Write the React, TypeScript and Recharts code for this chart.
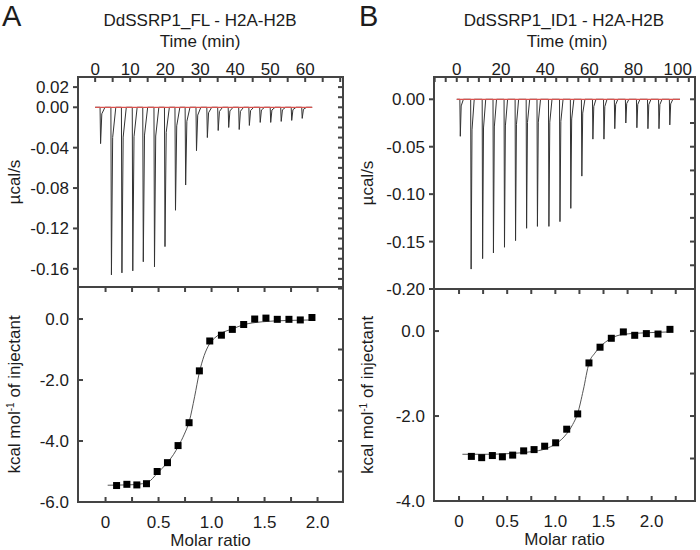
import React from "react";
import { ComposedChart, Line, Scatter, XAxis, YAxis, Label } from "recharts";

const FONT = "'Liberation Sans', Arial, Helvetica, sans-serif";
const INK = "#1c1c1c";
const FRAME = "#444444";
const TRACE = "#333333";
const BASELINE = "#d9534f";

// DdSSRP1_FL - H2A-H2B : raw injections (min, ucal/s)
const FL_INJ_TIME = [1.4, 4.5, 7.5, 10.6, 13.6, 16.8, 19.8, 22.8, 25.7, 28.8, 31.9, 35.0, 38.0, 41.0, 43.9, 47.0, 50.0, 53.0, 56.0, 59.0];
const FL_INJ_PEAK = [-0.036, -0.166, -0.164, -0.162, -0.153, -0.158, -0.138, -0.102, -0.077, -0.043, -0.03, -0.023, -0.02, -0.022, -0.018, -0.015, -0.015, -0.014, -0.013, -0.011];
const FL_RUN_END = 62;
// integrated heats
const FL_RATIO = [0.104, 0.201, 0.295, 0.386, 0.487, 0.584, 0.684, 0.788, 0.885, 0.983, 1.093, 1.196, 1.303, 1.407, 1.513, 1.62, 1.73, 1.837, 1.947];
const FL_HEAT = [-5.46, -5.42, -5.44, -5.4, -5.0, -4.71, -4.15, -3.4, -1.7, -0.72, -0.53, -0.34, -0.18, 0.0, 0.03, -0.01, -0.01, -0.03, 0.05];
const FL_FIT_RATIO = [0.02, 0.2, 0.3, 0.4, 0.49, 0.58, 0.64, 0.69, 0.74, 0.79, 0.84, 0.885, 0.93, 0.98, 1.03, 1.09, 1.2, 1.3, 1.48, 1.7, 1.97];
const FL_FIT_HEAT = [-5.45, -5.44, -5.42, -5.35, -5.05, -4.72, -4.45, -4.15, -3.8, -3.35, -2.55, -1.75, -1.2, -0.82, -0.62, -0.47, -0.32, -0.19, -0.09, -0.05, -0.03];

// DdSSRP1_ID1 - H2A-H2B
const ID1_INJ_TIME = [1.4, 6.3, 11.5, 16.4, 21.4, 26.4, 31.4, 36.3, 41.5, 46.5, 51.4, 56.4, 61.4, 66.4, 71.3, 76.3, 81.3, 86.3, 91.3, 96.2];
const ID1_INJ_PEAK = [-0.039, -0.179, -0.168, -0.162, -0.156, -0.149, -0.136, -0.134, -0.134, -0.129, -0.115, -0.081, -0.042, -0.042, -0.031, -0.025, -0.03, -0.031, -0.031, -0.027];
const ID1_RUN_END = 101;
const ID1_RATIO = [0.128, 0.235, 0.346, 0.45, 0.557, 0.671, 0.779, 0.889, 1.003, 1.118, 1.232, 1.349, 1.464, 1.581, 1.706, 1.824, 1.945, 2.066, 2.19];
const ID1_HEAT = [-2.95, -2.98, -2.93, -2.96, -2.92, -2.82, -2.79, -2.71, -2.63, -2.31, -1.95, -0.75, -0.38, -0.17, -0.02, -0.1, -0.06, -0.07, 0.04];
const ID1_FIT_RATIO = [0.035, 0.3, 0.55, 0.75, 0.9, 1.0, 1.06, 1.12, 1.18, 1.23, 1.29, 1.35, 1.41, 1.46, 1.52, 1.58, 1.7, 1.95, 2.19];
const ID1_FIT_HEAT = [-2.9, -2.9, -2.88, -2.84, -2.77, -2.66, -2.56, -2.41, -2.2, -1.95, -1.39, -0.75, -0.52, -0.38, -0.26, -0.17, -0.08, -0.04, -0.02];

const steps = (from: number, to: number, step: number) => {
  const out: number[] = [];
  for (let v = from; v <= to + 1e-9; v += step) out.push(+v.toFixed(4));
  return out;
};

const zip = (xs: number[], ys: number[]) => xs.map((x, i) => ({ x, y: ys[i] }));

// each injection drawn as a sharp dip that relaxes back to baseline
function trace(times: number[], peaks: number[], w: number[], end: number) {
  const pts = [{ x: 0, y: 0 }];
  times.forEach((t, i) => {
    const p = peaks[i];
    pts.push({ x: t, y: 0 }, { x: t + w[0], y: p }, { x: t + w[1], y: p * 0.18 }, { x: t + w[2], y: 0 });
  });
  pts.push({ x: end, y: 0 });
  return pts;
}

// tick marks as tiny rects placed by the scales; dx/dy/w/h relative to the tick point
const mark = (dx: number, dy: number, w: number, h: number) => (p: any) => (
  <rect x={p.cx + dx} y={p.cy + dy} width={w} height={h} fill={FRAME} />
);
const onLeft = (xd: number[], vals: number[]) => vals.map((v) => ({ x: xd[0], y: v }));
const onRight = (xd: number[], vals: number[]) => vals.map((v) => ({ x: xd[1], y: v }));
const onTop = (yd: number[], vals: number[]) => vals.map((v) => ({ x: v, y: yd[1] }));
const onBottom = (yd: number[], vals: number[]) => vals.map((v) => ({ x: v, y: yd[0] }));

function TickText(p: any) {
  const { x, y, payload, side, gap, fmt } = p;
  const label = fmt ? fmt(payload.value) : "";
  if (!label) return <g />;
  const common = { fontSize: 17, fill: INK, fontFamily: FONT };
  if (side === "left") return <text x={x - gap} y={y} dy="0.355em" textAnchor="end" {...common}>{label}</text>;
  if (side === "top") return <text x={x} y={y - gap} textAnchor="middle" {...common}>{label}</text>;
  return <text x={x} y={y + gap} dy="0.71em" textAnchor="middle" {...common}>{label}</text>;
}

const textOf = (side: string, gap: number, fmt: (v: number) => string) => (p: any) => <TickText {...p} side={side} gap={gap} fmt={fmt} />;

const Square = (p: any) => <rect x={p.cx - 3.5} y={p.cy - 3.5} width={7} height={7} fill="#000" />;

function VLabel({ viewBox, labelX, children }: any) {
  const cy = viewBox.y + viewBox.height / 2;
  return (
    <text x={labelX} y={cy} transform={`rotate(-90 ${labelX} ${cy})`} textAnchor="middle" fontSize={17} fill={INK} fontFamily={FONT}>
      {children}
    </text>
  );
}

// plot border laid over the chart's plot area (same layout numbers as the chart margins)
function Border({ x, y, w, h }: any) {
  return (
    <div
      style={{ position: "absolute", left: x - 1, top: y - 1, width: w + 2, height: h + 2, boxSizing: "border-box", border: `2px solid ${FRAME}`, pointerEvents: "none" }}
    />
  );
}

const plain = { tickSize: 0, tickMargin: 0, tickLine: false, axisLine: false, interval: 0 as const, type: "number" as const };
const noAnim = { isAnimationActive: false };

function Thermogram(props: any) {
  const { left, top, width, height, yw, mr, mb, xDomain, xTicks, xLabelStep, xMaxLabel, yDomain, yMajor, yMinor, data, end, title, letter, letterX, titleX, timeX, labelX } = props;
  return (
    <div style={{ position: "absolute", left, top, width, height }}>
      <ComposedChart width={width} height={height} margin={{ top: 0, right: mr, bottom: mb, left: 0 }}>
        <XAxis
          {...plain}
          xAxisId="t"
          orientation="top"
          dataKey="x"
          height={77}
          domain={xDomain}
          ticks={xTicks}
          tick={textOf("top", 2, (v) => (v % xLabelStep === 0 && v >= 0 && v <= xMaxLabel ? String(v) : ""))}
        >
          <Label
            content={() => (
              <g fontFamily={FONT} fill={INK}>
                <text x={letterX} y={26} fontSize={29}>{letter}</text>
                <text x={titleX} y={26} fontSize={17} textAnchor="middle">{title}</text>
                <text x={timeX} y={47} fontSize={17} textAnchor="middle">Time (min)</text>
              </g>
            )}
          />
        </XAxis>
        <YAxis {...plain} yAxisId="l" dataKey="y" width={yw} domain={yDomain} ticks={yMajor} tick={textOf("left", 9, (v) => v.toFixed(2))}>
          <Label content={(p: any) => <VLabel viewBox={p.viewBox} labelX={labelX}>µcal/s</VLabel>} />
        </YAxis>
        <Scatter xAxisId="t" yAxisId="l" data={onTop(yDomain, xTicks)} shape={mark(-1, 0, 2, 5)} {...noAnim} />
        <Scatter xAxisId="t" yAxisId="l" data={onLeft(xDomain, yMajor)} shape={mark(-5, -1, 5, 2)} {...noAnim} />
        <Scatter xAxisId="t" yAxisId="l" data={onRight(xDomain, yMinor)} shape={mark(-5, -1, 5, 2)} {...noAnim} />
        <Line xAxisId="t" yAxisId="l" data={data} dataKey="y" type="linear" stroke={TRACE} strokeWidth={1} dot={false} {...noAnim} />
        <Line xAxisId="t" yAxisId="l" data={[{ x: 0, y: 0 }, { x: end, y: 0 }]} dataKey="y" type="linear" stroke={BASELINE} strokeWidth={1.2} dot={false} {...noAnim} />
      </ComposedChart>
      <Border x={yw} y={77} w={width - yw - mr} h={height - mb - 77} />
    </div>
  );
}

const ratioFmt = (v: number) => (Math.abs(v * 2 - Math.round(v * 2)) < 1e-6 && v <= 2 ? (v === 0 ? "0" : v.toFixed(1)) : "");

function Isotherm(props: any) {
  const { left, top, width, height, yw, mr, mb, xDomain, xTicks, yDomain, yMajor, yMinor, points, fit, labelX } = props;
  return (
    <div style={{ position: "absolute", left, top, width, height }}>
      <ComposedChart width={width} height={height} margin={{ top: 0, right: mr, bottom: mb, left: 0 }}>
        <XAxis {...plain} xAxisId="b" orientation="bottom" dataKey="x" height={47} domain={xDomain} ticks={xTicks} tick={textOf("bottom", 14, ratioFmt)}>
          <Label value="Molar ratio" position="insideBottom" offset={3} style={{ fontSize: 17, fill: INK, fontFamily: FONT }} />
        </XAxis>
        <YAxis {...plain} yAxisId="l" dataKey="y" width={yw} domain={yDomain} ticks={yMajor} tick={textOf("left", 9, (v) => v.toFixed(1))}>
          <Label
            content={(p: any) => (
              <VLabel viewBox={p.viewBox} labelX={labelX}>
                kcal mol<tspan dy={-6} fontSize={10}>-1</tspan>
                <tspan dy={6}> of injectant</tspan>
              </VLabel>
            )}
          />
        </YAxis>
        <Scatter xAxisId="b" yAxisId="l" data={onBottom(yDomain, xTicks)} shape={mark(-1, -5, 2, 5)} {...noAnim} />
        <Scatter xAxisId="b" yAxisId="l" data={onTop(yDomain, xTicks)} shape={mark(-1, 0, 2, 5)} {...noAnim} />
        <Scatter xAxisId="b" yAxisId="l" data={onLeft(xDomain, yMajor)} shape={mark(0, -1, 5, 2)} {...noAnim} />
        <Scatter xAxisId="b" yAxisId="l" data={onRight(xDomain, yMinor)} shape={mark(-5, -1, 5, 2)} {...noAnim} />
        <Line xAxisId="b" yAxisId="l" data={fit} dataKey="y" type="monotone" stroke="#555" strokeWidth={1} dot={false} {...noAnim} />
        <Scatter xAxisId="b" yAxisId="l" data={points} shape={Square} {...noAnim} />
      </ComposedChart>
      <Border x={yw} y={0} w={width - yw - mr} h={height - mb - 47} />
    </div>
  );
}

export default function App() {
  return (
    <div style={{ position: "absolute", left: 0, top: 0, width: 700, height: 550, background: "#fff", fontFamily: FONT }}>
      <Thermogram
        left={0} top={0} width={350} height={300} yw={78} mr={7} mb={13}
        xDomain={[-4.9, 70.8]} xTicks={steps(0, 70, 5)} xLabelStep={10} xMaxLabel={60}
        yDomain={[-0.178, 0.03]} yMajor={[0.02, 0, -0.04, -0.08, -0.12, -0.16]} yMinor={steps(-0.17, 0.03, 0.01)}
        data={trace(FL_INJ_TIME, FL_INJ_PEAK, [0.15, 0.5, 1.4], FL_RUN_END)} end={FL_RUN_END}
        title="DdSSRP1_FL - H2A-H2B" letter="A" letterX={2} titleX={200} timeX={200} labelX={20}
      />
      <Isotherm
        left={0} top={287} width={350} height={263} yw={78} mr={7} mb={1}
        xDomain={[-0.26, 2.24]} xTicks={steps(0, 2.0, 0.25)}
        yDomain={[-6, 1.05]} yMajor={[-6, -4, -2, 0]} yMinor={steps(-6, 1, 1)}
        points={zip(FL_RATIO, FL_HEAT)} fit={zip(FL_FIT_RATIO, FL_FIT_HEAT)} labelX={20}
      />
      <Thermogram
        left={350} top={0} width={350} height={300} yw={84} mr={5} mb={11}
        xDomain={[-10.3, 107.8]} xTicks={steps(-10, 105, 5)} xLabelStep={20} xMaxLabel={100}
        yDomain={[-0.2, 0.0235]} yMajor={[0, -0.05, -0.1, -0.15, -0.2]} yMinor={steps(-0.2, 0, 0.025)}
        data={trace(ID1_INJ_TIME, ID1_INJ_PEAK, [0.2, 0.6, 1.6], ID1_RUN_END)} end={ID1_RUN_END}
        title="DdSSRP1_ID1 - H2A-H2B" letter="B" letterX={9} titleX={214} timeX={217} labelX={23}
      />
      <Isotherm
        left={350} top={289} width={350} height={261} yw={84} mr={5} mb={2}
        xDomain={[-0.26, 2.45]} xTicks={steps(0, 2.25, 0.25)}
        yDomain={[-4, 0.99]} yMajor={[-4, -2, 0]} yMinor={steps(-4, 0, 1)}
        points={zip(ID1_RATIO, ID1_HEAT)} fit={zip(ID1_FIT_RATIO, ID1_FIT_HEAT)} labelX={23}
      />
    </div>
  );
}
